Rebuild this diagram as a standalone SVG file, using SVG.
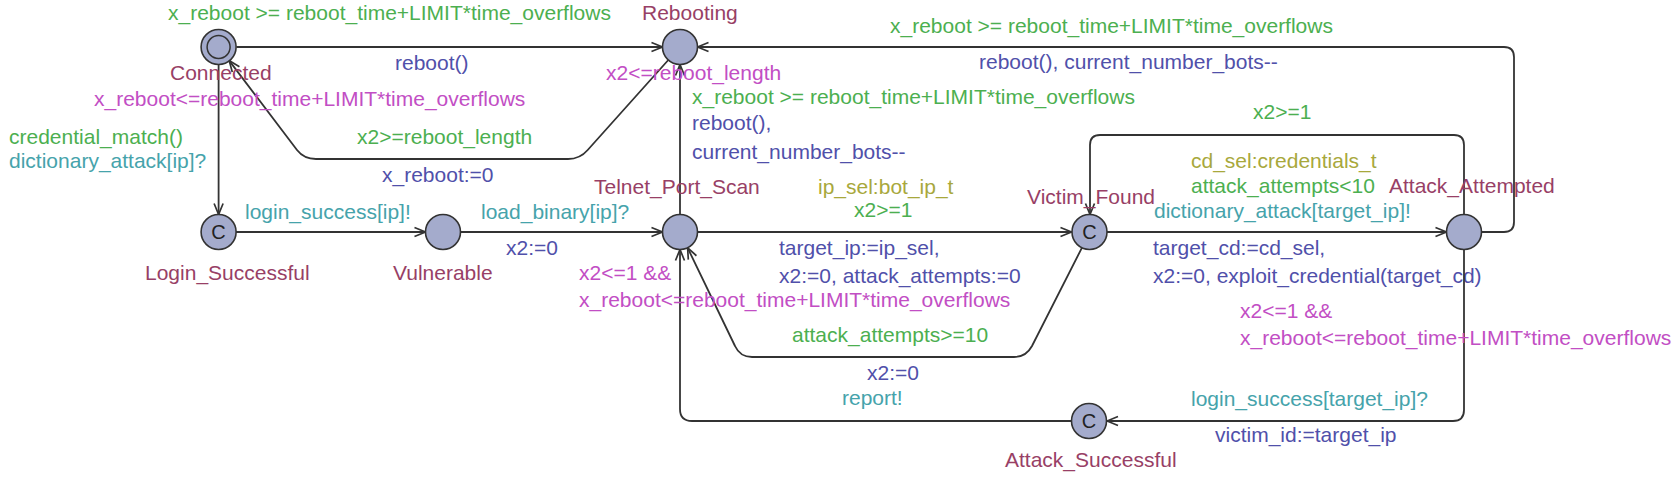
<svg xmlns="http://www.w3.org/2000/svg" width="1675" height="478" viewBox="0 0 1675 478">
<style>
text{font-family:"Liberation Sans",Arial,sans-serif;font-size:21px}
.loc{fill:#a4abcc;stroke:#333;stroke-width:1.6}
.nm{fill:#983f66}
.inv{fill:#c24ec4}
.grd{fill:#4caf50}
.syn{fill:#46a3ab}
.upd{fill:#5050aa}
.sel{fill:#a8a83c}
.cm{fill:#222;font-size:20px;text-anchor:middle}
.e{fill:none;stroke:#333;stroke-width:1.8;marker-end:url(#arr)}
</style>
<defs>
<marker id="arr" viewBox="-13 -7 15 14" refX="0" refY="0" markerWidth="15" markerHeight="14" orient="auto" markerUnits="userSpaceOnUse">
<path d="M-11,-4.5 L0,0 L-11,4.5" fill="none" stroke="#333" stroke-width="1.7"/>
</marker>
</defs>
<rect width="1675" height="478" fill="#fff"/>
<g id="connectors">
<g id="e-connected-rebooting">
<path class="e" d="M236.5,47 L662.5,47"/>
<text class="grd" x="168" y="20">x_reboot &gt;= reboot_time+LIMIT*time_overflows</text>
<text class="upd" x="395" y="70">reboot()</text>
</g>
<g id="e-rebooting-connected">
<path class="e" d="M668.3,60 L587.7,150 Q580,159 568,159 L316,159 Q304,159 297,150 L229.2,60.6"/>
<text class="grd" x="357" y="144">x2&gt;=reboot_length</text>
<text class="upd" x="382" y="182">x_reboot:=0</text>
</g>
<g id="e-connected-login">
<path class="e" d="M218.6,64.2 L218.6,214.5"/>
<text class="grd" x="9" y="144">credential_match()</text>
<text class="syn" x="9" y="168">dictionary_attack[ip]?</text>
</g>
<g id="e-login-vulnerable">
<path class="e" d="M236,232 L425.5,232"/>
<text class="syn" x="245" y="219">login_success[ip]!</text>
</g>
<g id="e-vulnerable-telnet">
<path class="e" d="M460.5,232 L662.5,232"/>
<text class="syn" x="481" y="219">load_binary[ip]?</text>
<text class="upd" x="506" y="255">x2:=0</text>
</g>
<g id="e-telnet-victim">
<path class="e" d="M697.5,232 L1071.5,232"/>
<text class="sel" x="818" y="194">ip_sel:bot_ip_t</text>
<text class="grd" x="854" y="217">x2&gt;=1</text>
<text class="upd" x="779" y="255">target_ip:=ip_sel,</text>
<text class="upd" x="779" y="283">x2:=0, attack_attempts:=0</text>
</g>
<g id="e-victim-attack">
<path class="e" d="M1107,232 L1446.5,232"/>
<text class="sel" x="1191" y="168">cd_sel:credentials_t</text>
<text class="grd" x="1191" y="193">attack_attempts&lt;10</text>
<text class="syn" x="1154" y="218">dictionary_attack[target_ip]!</text>
<text class="upd" x="1153" y="255">target_cd:=cd_sel,</text>
<text class="upd" x="1153" y="283">x2:=0, exploit_credential(target_cd)</text>
</g>
<g id="e-telnet-rebooting">
<path class="e" d="M680,214.5 L680,64.5"/>
<text class="grd" x="692" y="104">x_reboot &gt;= reboot_time+LIMIT*time_overflows</text>
<text class="upd" x="692" y="130">reboot(),</text>
<text class="upd" x="692" y="159">current_number_bots--</text>
</g>
<g id="e-attack-rebooting">
<path class="e" d="M1481.5,232 L1504,232 Q1514,232 1514,222 L1514,57 Q1514,47 1504,47 L697.5,47"/>
<text class="grd" x="890" y="33">x_reboot &gt;= reboot_time+LIMIT*time_overflows</text>
<text class="upd" x="979" y="69">reboot(), current_number_bots--</text>
</g>
<g id="e-attack-victim">
<path class="e" d="M1464,214.5 L1464,145 Q1464,135 1454,135 L1100,135 Q1090,135 1090,145 L1090,214.5"/>
<text class="grd" x="1253" y="119">x2&gt;=1</text>
</g>
<g id="e-victim-telnet">
<path class="e" d="M1082,247.6 L1032,346 Q1026,357 1014,357 L752,357 Q740,357 735,346 L687.6,247.8"/>
<text class="grd" x="792" y="342">attack_attempts&gt;=10</text>
<text class="upd" x="867" y="380">x2:=0</text>
</g>
<g id="e-attack-successful">
<path class="e" d="M1464,249.5 L1464,410 Q1464,421 1453,421 L1107,421"/>
<text class="syn" x="1191" y="406">login_success[target_ip]?</text>
<text class="upd" x="1215" y="442">victim_id:=target_ip</text>
</g>
<g id="e-successful-telnet">
<path class="e" d="M1071.5,421 L692,421 Q680,421 680,409 L680,249.5"/>
<text class="syn" x="842" y="405">report!</text>
</g>
</g>
<g id="Connected">
<circle class="loc" cx="218.6" cy="47" r="17.5"/>
<circle cx="218.6" cy="47" r="11.5" fill="none" stroke="#333" stroke-width="1.5"/>
<text class="nm" x="170" y="80">Connected</text>
<text class="inv" x="94" y="106">x_reboot&lt;=reboot_time+LIMIT*time_overflows</text>
</g>
<g id="Rebooting">
<circle class="loc" cx="680" cy="47" r="17.5"/>
<text class="nm" x="642" y="20">Rebooting</text>
<text class="inv" x="606" y="80">x2&lt;=reboot_length</text>
</g>
<g id="Login_Successful">
<circle class="loc" cx="218.6" cy="232" r="17.5"/>
<text class="cm" x="218.6" y="239">C</text>
<text class="nm" x="145" y="280">Login_Successful</text>
</g>
<g id="Vulnerable">
<circle class="loc" cx="443" cy="232" r="17.5"/>
<text class="nm" x="393" y="280">Vulnerable</text>
</g>
<g id="Telnet_Port_Scan">
<circle class="loc" cx="680" cy="232" r="17.5"/>
<text class="nm" x="594" y="194">Telnet_Port_Scan</text>
<text class="inv" x="579" y="280">x2&lt;=1 &amp;&amp;</text>
<text class="inv" x="579" y="307">x_reboot&lt;=reboot_time+LIMIT*time_overflows</text>
</g>
<g id="Victim_Found">
<circle class="loc" cx="1089.5" cy="232" r="17.5"/>
<text class="cm" x="1089.5" y="239">C</text>
<text class="nm" x="1027" y="204">Victim_Found</text>
</g>
<g id="Attack_Attempted">
<circle class="loc" cx="1464" cy="232" r="17.5"/>
<text class="nm" x="1389" y="193">Attack_Attempted</text>
<text class="inv" x="1240" y="318">x2&lt;=1 &amp;&amp;</text>
<text class="inv" x="1240" y="345">x_reboot&lt;=reboot_time+LIMIT*time_overflows</text>
</g>
<g id="Attack_Successful">
<circle class="loc" cx="1089" cy="421" r="17.5"/>
<text class="cm" x="1089" y="428">C</text>
<text class="nm" x="1005" y="467">Attack_Successful</text>
</g>
</svg>
